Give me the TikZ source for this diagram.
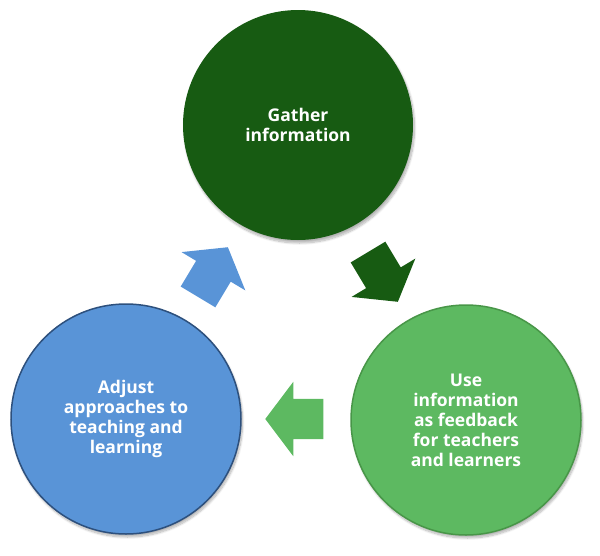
\documentclass[tikz,border=0pt]{standalone}
\usepackage{fontspec}
\setmainfont{Open Sans}
\usetikzlibrary{shapes.arrows,shadows.blur}
\definecolor{darkg}{RGB}{23,91,18}
\definecolor{lightg}{RGB}{93,185,97}
\definecolor{lightgb}{RGB}{72,150,72}
\definecolor{blu}{RGB}{89,148,215}
\definecolor{blub}{RGB}{45,80,125}
\tikzset{
  stage/.style={circle, minimum size=230pt, inner sep=0pt, align=center, text=white,
    font=\fontsize{17.5}{20}\selectfont\bfseries,
    blur shadow={shadow xshift=1.5pt, shadow yshift=-3pt, shadow blur steps=10, shadow opacity=30}},
  blockarrow/.style={single arrow, draw=none, inner xsep=0pt, inner ysep=20pt, minimum height=58pt,
    minimum width=74pt, single arrow head extend=17pt, single arrow tip angle=106,
    anchor=tip}
}
\begin{document}
\begin{tikzpicture}[x=1pt,y=-1pt]
\useasboundingbox (0,0) rectangle (600,555);
\node[stage, fill=darkg] (gather) at (298,125) {Gather\\information};
\node[stage, fill=lightg, draw=lightgb, line width=1.5pt] (use) at (466,420) {Use\\information\\as feedback\\for teachers\\and learners};
\node[stage, fill=blu, draw=blub, line width=1.5pt] (adjust) at (126,419) {Adjust\\approaches to\\teaching and\\learning};
\node[blockarrow, fill=darkg, rotate=-59] (a1) at (398,302) {};
\node[blockarrow, fill=lightg, rotate=180] (a2) at (265,419) {};
\node[blockarrow, fill=blu, rotate=59] (a3) at (228,247) {};
\end{tikzpicture}
\end{document}
